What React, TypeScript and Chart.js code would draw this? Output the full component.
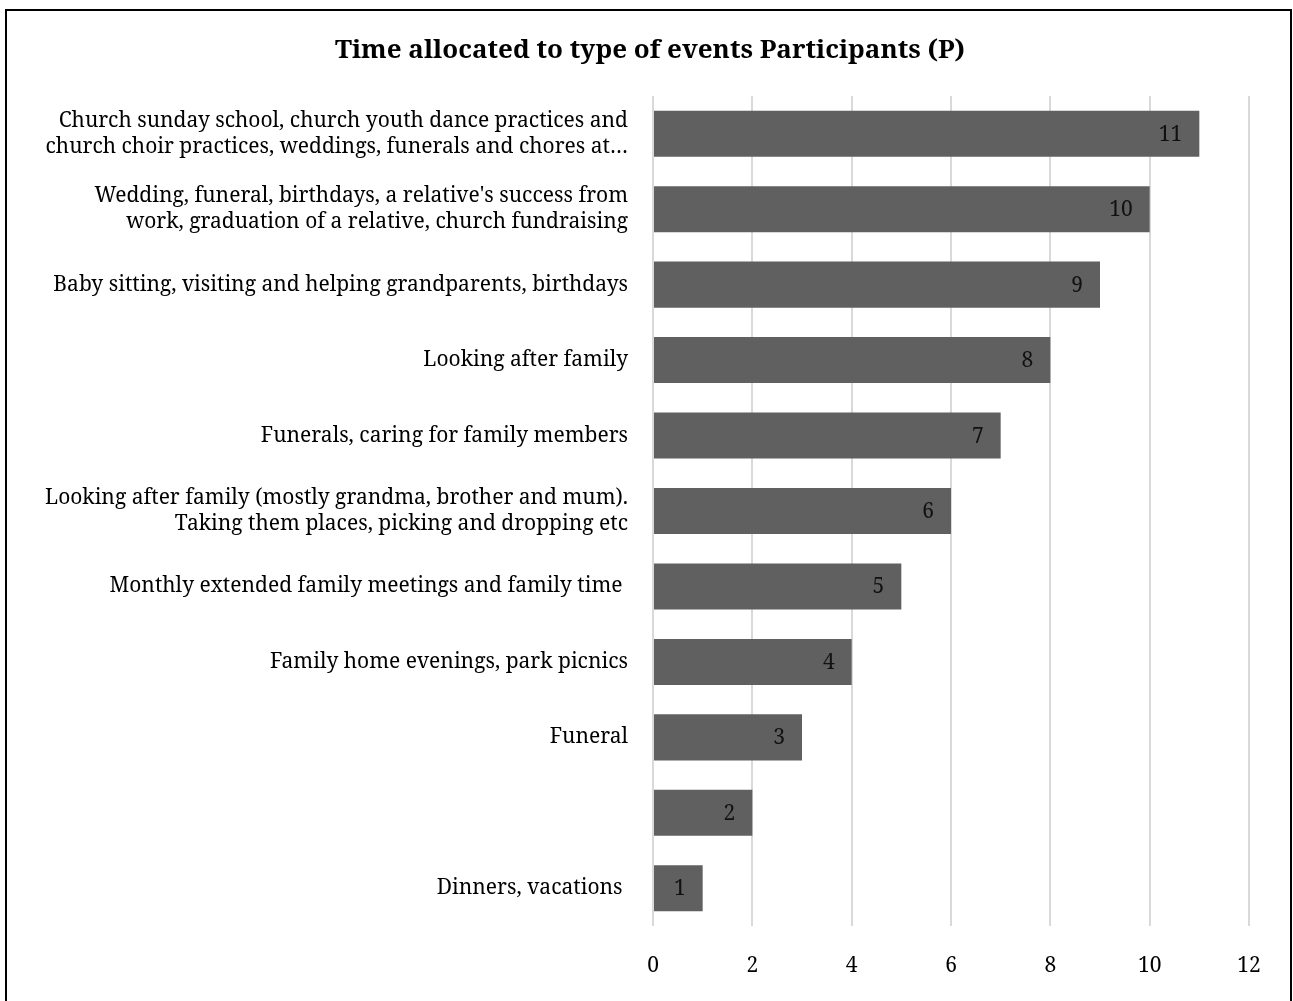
import React, { useEffect, useRef } from "react";
import { Chart, registerables } from "chart.js";

Chart.register(...registerables);

const titleText = "Time allocated to type of events Participants (P)";
const categories: (string | string[])[] = [
  ["Church sunday school, church youth dance practices and", "church choir practices, weddings, funerals and chores at…"],
  ["Wedding, funeral, birthdays, a relative's success from", "work, graduation of a relative, church fundraising"],
  "Baby sitting, visiting and helping grandparents, birthdays",
  "Looking after family",
  "Funerals, caring for family members",
  ["Looking after family (mostly grandma, brother and mum).", "Taking them places, picking and dropping etc"],
  "Monthly extended family meetings and family time ",
  "Family home evenings, park picnics",
  "Funeral",
  "",
  "Dinners, vacations ",
];
const values = [11, 10, 9, 8, 7, 6, 5, 4, 3, 2, 1];
const xMin = 0;
const xMax = 12;
const xStep = 2;

const FONT = '"Noto Serif", serif';
const PAD_L = 20;

const frame = {
  id: "frame",
  afterDraw(chart: any) {
    const ctx = chart.ctx;
    ctx.save();
    ctx.strokeStyle = "#000";
    ctx.lineWidth = 2;
    ctx.strokeRect(6, 10, 1285, 1000);
    ctx.font = `bold 26px ${FONT}`;
    ctx.fillStyle = "#000";
    ctx.textAlign = "center";
    ctx.textBaseline = "middle";
    ctx.fillText(titleText, 650, 51);
    ctx.restore();
  },
};

const barLabels = {
  id: "barLabels",
  afterDatasetsDraw(chart: any) {
    const ctx = chart.ctx;
    const meta = chart.getDatasetMeta(0);
    ctx.save();
    ctx.font = `21px ${FONT}`;
    ctx.fillStyle = "#111";
    ctx.textAlign = "right";
    ctx.textBaseline = "middle";
    meta.data.forEach((el: any, i: number) => {
      ctx.fillText(String(values[i]), el.x - 17, el.y + 1);
    });
    ctx.restore();
  },
};

export default function App() {
  const ref = useRef<HTMLCanvasElement>(null);
  useEffect(() => {
    const chart = new Chart(ref.current!, {
      type: "bar",
      data: {
        labels: categories,
        datasets: [
          {
            data: values,
            backgroundColor: "#606060",
            borderWidth: 0,
            barPercentage: 0.61,
            categoryPercentage: 1,
          },
        ],
      },
      options: {
        indexAxis: "y",
        animation: false,
        responsive: false,
        devicePixelRatio: 1,
        layout: { padding: { left: PAD_L, right: 44, top: 96, bottom: 0 } },
        plugins: {
          legend: { display: false },
          tooltip: { enabled: false },
          title: { display: false },
        },
        scales: {
          x: {
            min: xMin,
            max: xMax,
            afterFit(scale: any) {
              scale.height = 1001 - 926;
            },
            ticks: { stepSize: xStep, color: "#000", font: { family: FONT, size: 21 }, padding: 27 },
            grid: { color: "#d9d9d9", lineWidth: 2, drawTicks: false },
            border: { display: false },
          },
          y: {
            afterFit(scale: any) {
              scale.width = 653 - PAD_L;
            },
            ticks: { color: "#000", font: { family: FONT, size: 21, lineHeight: 1.25 }, padding: 25, autoSkip: false },
            grid: { display: false, drawTicks: false },
            border: { display: false },
          },
        },
      },
      plugins: [frame, barLabels],
    });
    return () => chart.destroy();
  }, []);
  return (
    <div style={{ position: "absolute", left: 0, top: 0, width: 1293, height: 1001, background: "#fff" }}>
      <canvas ref={ref} width={1293} height={1001} style={{ display: "block" }} />
    </div>
  );
}
